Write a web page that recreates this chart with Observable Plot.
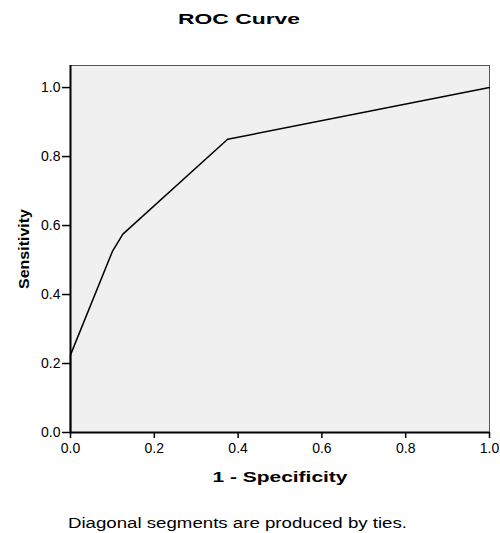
<!DOCTYPE html>
<html>
<head>
<meta charset="utf-8">
<script src="https://cdn.jsdelivr.net/npm/d3@7"></script>
<script src="https://cdn.jsdelivr.net/npm/@observablehq/plot@0.6"></script>
<style>
  html, body { margin: 0; padding: 0; background: #fff; }
  #wrap { position: relative; width: 500px; height: 533px; font-family: "Liberation Sans", Arial, sans-serif; color: #000; }
  #title { position: absolute; left: 0; width: 478px; top: 11.2px; text-align: center; font-size: 15.4px; line-height: 15.4px; font-weight: bold; white-space: nowrap; }
  #title span { display: inline-block; transform-origin: 50% 50%; }
  #chart { position: absolute; left: 0; top: 40px; }
  #caption { position: absolute; left: 68px; top: 515.8px; font-size: 14px; line-height: 14px; white-space: nowrap; }
  #caption span { display: inline-block; transform-origin: 0 50%; }
</style>
</head>
<body>
<div id="wrap">
  <div id="title"><span>ROC Curve</span></div>
  <div id="chart"></div>
  <div id="caption"><span>Diagonal segments are produced by ties.</span></div>
</div>
<script>
const fpr = [0, 0, 0.1, 0.125, 0.375, 1];
const tpr = [0, 0.225, 0.525, 0.575, 0.85, 1];
const tickValues = [0, 0.2, 0.4, 0.6, 0.8, 1.0];
const xLabel = "1 - Specificity";
const yLabel = "Sensitivity";

const points = fpr.map((x, i) => ({x, y: tpr[i]}));

const svg = Plot.plot({
  width: 500,
  height: 460,
  marginLeft: 70,
  marginRight: 11,
  marginTop: 25,
  marginBottom: 68,
  style: {fontFamily: "'Liberation Sans', Arial, sans-serif", fontSize: "14px", color: "#000", background: "transparent"},
  x: {domain: [0, 1]},
  y: {domain: [0, 1.064]},
  marks: [
    Plot.frame({fill: "#f0f0f0", stroke: "#555", strokeWidth: 1}),
    Plot.line(points, {x: "x", y: "y", stroke: "#000", strokeWidth: 1.5}),
    Plot.ruleX([0], {stroke: "#000", strokeWidth: 2}),
    Plot.ruleY([0], {stroke: "#000", strokeWidth: 2}),
    Plot.axisX({ticks: tickValues, tickFormat: d3.format(".1f"), tickSize: 6, tickPadding: 5, fontSize: 14, label: null, stroke: "#000", strokeWidth: 1.5}),
    Plot.axisY({ticks: tickValues, tickFormat: d3.format(".1f"), tickSize: 8, tickPadding: 2, fontSize: 14, label: null, stroke: "#000", strokeWidth: 1.5}),
    Plot.text([xLabel], {text: d => d, frameAnchor: "bottom", dy: 45, textAnchor: "middle", lineAnchor: "middle", fontSize: 15.4, fontWeight: "bold", fill: "#000"}),
    Plot.text([yLabel], {text: d => d, frameAnchor: "left", dx: -46, rotate: -90, textAnchor: "middle", lineAnchor: "middle", fontSize: 15.4, fontWeight: "bold", fill: "#000"})
  ]
});
// stretch axis titles horizontally, like the reference rendering
const labelWidths = {[xLabel]: 135, [yLabel]: 80};
d3.select(svg).selectAll('g[aria-label="text"] text').each(function() {
  const w = labelWidths[this.textContent];
  if (w) { this.setAttribute("textLength", w); this.setAttribute("lengthAdjust", "spacingAndGlyphs"); }
});
document.getElementById("chart").appendChild(svg);

function stretch(sel, target) {
  const el = document.querySelector(sel);
  const w = el.getBoundingClientRect().width;
  el.style.transform = `scaleX(${target / w})`;
}
stretch("#title span", 122);
stretch("#caption span", 339);
</script>
</body>
</html>
